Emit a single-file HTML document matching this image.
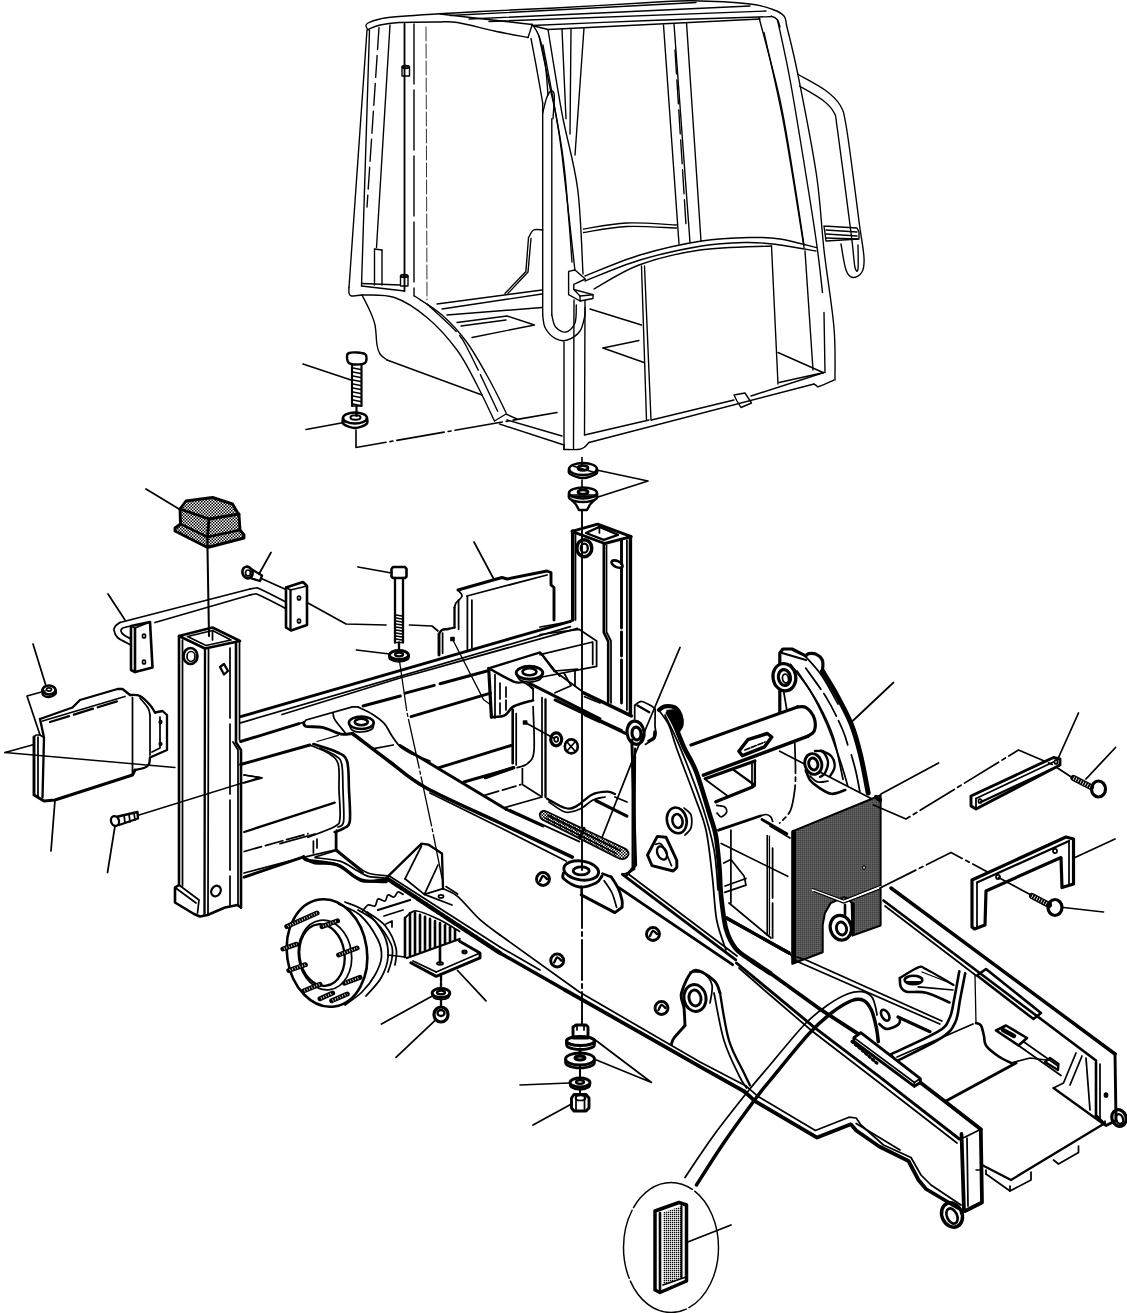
<!DOCTYPE html>
<html><head><meta charset="utf-8"><title>Cab and frame exploded view</title>
<style>html,body{margin:0;padding:0;background:#fff}svg{display:block}</style></head>
<body><svg width="1127" height="1313" viewBox="0 0 1127 1313">
<defs>
<pattern id="mesh" width="2" height="2" patternUnits="userSpaceOnUse"><rect width="2" height="2" fill="#000"/><rect x="0.5" y="0.5" width="1.15" height="1.15" fill="#fff"/></pattern>
<pattern id="mesh2" width="2" height="2" patternUnits="userSpaceOnUse"><rect width="2" height="2" fill="#fff"/><rect x="0" y="0" width="1.3" height="1.3" fill="#000"/></pattern>
<pattern id="stip" width="3" height="3" patternUnits="userSpaceOnUse"><rect width="3" height="3" fill="#fff"/><rect x="0" y="0" width="1.5" height="1.5" fill="#000"/><rect x="1.5" y="1.5" width="1.5" height="1.5" fill="#000"/></pattern>
</defs>
<g fill="none" stroke="#000" stroke-width="1.44" stroke-linecap="round" stroke-linejoin="round">
<!-- cab roof -->
<path d="M368 30 C367.7 29.3 366 27.2 366 26 C366 24.8 365.7 24.2 368 23 C370.3 21.8 374.8 20.1 380 19 C385.2 17.9 382.3 17.8 399 16.5 C415.7 15.2 454 12.9 480 11.5 C506 10.1 526.7 9.5 555 8 C583.3 6.5 627.2 3.7 650 2.5 C672.8 1.3 675.3 0.6 692 0.8 C708.7 1.1 736.3 2.5 750 4 C763.7 5.5 768.3 8 774 10 C779.7 12 781.9 13.5 784 16 C786.1 18.5 786.1 23.5 786.5 25" stroke-width="1.38"/>
<path d="M368 29.5 C370 28.8 374.8 26.2 380 25 C385.2 23.8 389.5 23 399 22.5 C408.5 22 427.2 22 437 22 C446.8 22 447.9 21 457.5 22.5 C467.1 24 482.8 28.5 494.5 31 C506.2 33.5 522.4 36.4 528 37.5" stroke-width="1.38"/>
<path d="M450 15.5 L696 2.5" stroke-width="1.38"/>
<path d="M469 19 L750 6" stroke-width="1.38"/>
<path d="M489 21.5 L766 11" stroke-width="1.38"/>
<path d="M440 14 L532 24.5" stroke-width="1.38"/>
<path d="M532 25.5 C551.7 24.7 612.2 21.9 650 20.5 C687.8 19.1 738.7 17.7 759 17 C779.3 16.3 768.9 16 772 16.5 C775.1 17 776.2 18.2 777.5 20 C778.8 21.8 779.6 25.8 780 27" stroke-width="1.38"/>
<path d="M528 37.5 L532 25.5" stroke-width="1.38"/>
<!-- cab left post -->
<path d="M367 30 L349 287.5" stroke-width="1.38"/>
<path d="M349 287.5 C349 288.4 348.6 291.6 349 293 C349.4 294.4 349.3 295.7 351.5 296 C353.7 296.3 360.2 295.2 362 295" stroke-width="1.38"/>
<path d="M369.5 30 L361.5 286" stroke-width="1.38"/>
<path d="M379 27.5 L367 207" stroke-width="1.38" stroke-dasharray="22 6"/>
<path d="M390 25 L376.5 247.5" stroke-width="1.38"/>
<path d="M404.5 24 L404.5 291" stroke-width="1.84"/>
<path d="M414 24 L414 296" stroke-width="1.38" stroke-dasharray="60 6"/>
<path d="M426 27 L427 300" stroke-width="0.80" stroke-dasharray="14 3"/>
<path d="M402 67 L402 76 L409.5 76 L409.5 67Z" stroke-width="1.38"/>
<ellipse cx="405.7" cy="67" rx="3.7" ry="1.5" stroke-width="1.38"/>
<path d="M400.5 276 L400.5 286 L408 286 L408 276Z" stroke-width="1.38"/>
<ellipse cx="404.2" cy="276" rx="3.7" ry="1.5" stroke-width="1.38"/>
<path d="M374.5 249 L374.5 285" stroke-width="1.38"/>
<path d="M382 250 L382 285" stroke-width="1.38"/>
<path d="M374.5 249 L382 250" stroke-width="1.38"/>
<path d="M361.5 286 L404.5 291" stroke-width="1.38"/>
<path d="M362 283.5 L400 285" stroke-width="1.38"/>
<!-- fender -->
<path d="M362 295 C363.2 297.5 367.3 305 369.5 310 C371.7 315 373.8 319.2 375 325 C376.2 330.8 376.2 340.2 377 345 C377.8 349.8 378.3 351.5 380 354 C381.7 356.5 385.8 359 387 360" stroke-width="1.38"/>
<path d="M387 360 L482 395" stroke-width="1.38"/>
<path d="M362 295 C367.4 295.4 383.7 293.8 394.5 297.5 C405.3 301.2 416.6 308.8 427 317.5 C437.4 326.2 448.7 338.8 457 350 C465.3 361.2 470.8 373.2 477 385 C483.2 396.8 491.6 415 494.5 421" stroke-width="1.38"/>
<path d="M414.5 296 C419.1 299.2 433.2 307.2 442 315 C450.8 322.8 459.1 331.7 467 342.5 C474.9 353.3 483 368.3 489.5 380 C496 391.7 503.2 407.1 506 412.5" stroke-width="1.38"/>
<path d="M427 304 C432 308.8 449.9 324.4 457 332.5 C464.1 340.6 462.4 338.8 469.5 352.5 C476.6 366.2 494.5 404.6 499.5 415" stroke-width="1.38" stroke-dasharray="40 5"/>
<path d="M494.5 421 L506 414" stroke-width="1.38"/>
<!-- cab floor front -->
<path d="M437 304 L542 290" stroke-width="1.38"/>
<path d="M442 309 L542 294" stroke-width="1.38"/>
<path d="M447 315 L542 307.5" stroke-width="1.38"/>
<path d="M457 322.5 L507 316 L534.5 325 L472 337.5" stroke-width="1.38"/>
<path d="M461 326 L506 320" stroke-width="1.38"/>
<!-- front hoop + A pillar -->
<path d="M531 38.5 C531.8 42.9 534 54.2 536 65 C538 75.8 541.6 96.7 542.7 103" stroke-width="1.38"/>
<path d="M532 24 C533.2 26 536.8 29.7 539 36 C541.2 42.3 543.5 52.2 545 62 C546.5 71.8 547.5 89.5 548 95" stroke-width="1.38"/>
<path d="M542.7 103 L542.7 315" stroke-width="1.38"/>
<path d="M542.7 315 C543.1 317.2 543.1 324.1 545.3 328 C547.4 331.9 551.9 336.7 555.6 338.7 C559.3 340.7 563.2 341.3 567.3 340 C571.4 338.7 577 335.2 580 331 C583 326.8 584.2 317.7 585 315" stroke-width="1.38"/>
<path d="M585 315 L585 300" stroke-width="1.38"/>
<path d="M542.7 113 C543.4 110.5 545.2 101.7 546.6 98 C548 94.3 549.7 91.4 551 91 C552.3 90.6 554 90.8 554.3 95.4 C554.6 100 553.2 114.8 553 118.7" stroke-width="1.38"/>
<path d="M551.8 118.7 L551.8 315" stroke-width="1.38"/>
<path d="M551.8 315 C552.4 317 553.2 324.2 555.6 327 C558 329.8 562.8 332.7 566 332 C569.2 331.3 573.3 327.5 575 323 C576.7 318.5 576.1 308 576.3 305" stroke-width="1.38"/>
<path d="M539 36 C540.9 45 547.7 77.1 550.5 90 C553.3 102.9 553.7 102.7 555.6 113.5 C557.5 124.3 558.8 128.8 562 155 C565.2 181.2 572.8 251.7 575 271" stroke-width="1.38"/>
<path d="M548 29.5 C550.3 43.5 557.1 87 562 113.5 C566.9 140 574.1 161.8 577.6 188.6 C581.1 215.3 582.1 259.8 583 274" stroke-width="1.38"/>
<path d="M543 45 C546.2 62.5 557.7 121.3 562 150 C566.3 178.7 566.9 198.3 568.6 217 C570.3 235.7 571.4 254.5 572 262" stroke-width="1.38"/>
<path d="M562 29.5 L566 118.7" stroke-width="1.38"/>
<path d="M571 29.5 L570 134" stroke-width="1.38"/>
<path d="M584 28 L575 155" stroke-width="1.38"/>
<path d="M534 26 L548 29.5 L760 19" stroke-width="1.38"/>
<!-- seat lever -->
<path d="M542.7 230 C541.2 230 536 228.7 533.6 230 C531.2 231.3 529.4 236.4 528.5 237.7" stroke-width="1.38"/>
<path d="M528.5 237.7 L525.9 271.4 L505 293.4" stroke-width="1.38"/>
<path d="M531 238.5 L528 272 L508 293.4" stroke-width="1.38"/>
<!-- front right post lower -->
<path d="M574 300 L573.5 449" stroke-width="1.38"/>
<path d="M564 342 L564 449.5" stroke-width="1.38"/>
<path d="M585 307.5 L584.5 435" stroke-width="1.38"/>
<path d="M564 449.5 C566.3 449.5 574.7 449.8 578 449.5 C581.3 449.2 582.2 448.7 584 447.5 C585.8 446.3 588.2 443.3 589 442.5" stroke-width="1.38"/>
<path d="M589 442.5 L814 384" stroke-width="1.38"/>
<path d="M814 384 C814.5 384.3 816.2 385.6 817 386 C817.8 386.4 816.2 387.5 819 386.5 C821.8 385.5 831.5 381.1 834 380" stroke-width="1.38"/>
<path d="M584.5 435 L649 420" stroke-width="1.38"/>
<path d="M651.5 420 L734 400" stroke-width="1.38"/>
<path d="M751 396 L824 372.5" stroke-width="1.38"/>
<path d="M734 395 L745 393 L751.5 403 L741 407.5 L737 401Z" stroke-width="1.38"/>
<path d="M499.5 424 L564 445" stroke-width="1.38"/>
<path d="M507 420 L562 436" stroke-width="1.38"/>
<path d="M506 414 L517 419" stroke-width="1.38"/>
<path d="M564 449.5 L564 445" stroke-width="1.38"/>
<!-- bracket on post -->
<path d="M568.6 271.4 L575 270 L585.4 279 L573.8 284.3 L573.8 289.5 L593 294.7 L593 298.5 L580 301 L568.6 294.7Z" stroke-width="1.38" fill="#fff"/>
<path d="M573.8 289.5 L580 296 L593 294.7" stroke-width="1.38"/>
<path d="M580 296 L580 301" stroke-width="1.38"/>
<!-- sill -->
<path d="M585 276 C594.2 272.5 620.6 260.8 640 255 C659.4 249.2 682.9 243.9 701.5 241 C720.1 238.1 738.4 237.8 751.5 237.5 C764.6 237.2 769.2 237.3 780 239 C790.8 240.7 810.4 246.1 816.5 247.5" stroke-width="1.38"/>
<path d="M585 281 C594.2 277.5 620.6 265.8 640 260 C659.4 254.2 684 248.9 701.5 246 C719 243.1 733.2 242.8 745 242.5 C756.8 242.2 760.7 242.6 772.5 244 C784.3 245.4 808.8 249.8 816 251" stroke-width="1.38"/>
<path d="M594 289 C601.5 285 621.3 271.5 639 265 C656.7 258.5 677.9 253.2 700 250 C722.1 246.8 759.6 246.7 771.5 246" stroke-width="1.38"/>
<path d="M583.5 229 C590.7 228 611 223.7 626.5 223 C642 222.3 668.2 224.7 676.5 225" stroke-width="1.38"/>
<path d="M583.5 232.5 C590.7 231.5 611 227.2 626.5 226.5 C642 225.8 668.2 227.8 676.5 228" stroke-width="1.38"/>
<!-- B pillar -->
<path d="M663.5 25 L679 244" stroke-width="1.38"/>
<path d="M674 24 L690 242.5" stroke-width="1.38"/>
<path d="M686.5 22.5 L701 241" stroke-width="1.38"/>
<path d="M675 50 L686 225" stroke-width="1.38" stroke-dasharray="24 6"/>
<!-- C pillar -->
<path d="M786.5 25 C788.4 33.3 793 50 798 75 C803 100 812.2 145.8 816.5 175 C820.8 204.2 821.1 224.5 824 250 C826.9 275.5 832.2 306.3 834 328 C835.8 349.7 834.8 371.3 835 380" stroke-width="1.38"/>
<path d="M777.5 20 C779.8 30.8 785.6 55 791 85 C796.4 115 805.6 172.5 810 200 C814.4 227.5 815.4 234.6 817.5 250 C819.6 265.4 821.7 285.4 822.5 292.5" stroke-width="1.38"/>
<path d="M824 312.5 L825 372.5" stroke-width="1.38"/>
<path d="M759 17.5 C762.5 31.2 774.2 72.9 780 100 C785.8 127.1 790 155.8 794 180 C798 204.2 802.3 234.2 804 245" stroke-width="1.38"/>
<path d="M764 32.5 C767.3 47.9 777.3 89.2 784 125 C790.7 160.8 800.7 227.1 804 247.5" stroke-width="1.38"/>
<!-- rear lower -->
<path d="M771.5 246 L778 384" stroke-width="1.38"/>
<path d="M805 251 L813 370" stroke-width="1.38"/>
<path d="M778 352.5 L823 372.5" stroke-width="1.38"/>
<path d="M779 382.5 L824 372.5" stroke-width="1.38"/>
<path d="M641.5 266 L646.5 420" stroke-width="1.38"/>
<path d="M644.5 266 L651 420" stroke-width="1.38"/>
<path d="M590 309 L641.5 325" stroke-width="1.38"/>
<path d="M603 348 L639 340.5" stroke-width="1.38"/>
<path d="M603 348 L644 362.5" stroke-width="1.38"/>
<!-- grab handle -->
<path d="M797.5 74 C802.1 76.7 817.9 84.8 825 90 C832.1 95.2 836.5 99.2 840 105 C843.5 110.8 843.5 110.8 846 125 C848.5 139.2 852.8 173.3 855 190 C857.2 206.7 858 213.8 859.5 225 C861 236.2 863.6 249.7 864 257.5 C864.4 265.3 863.8 268.7 862 272 C860.2 275.3 855.7 277.8 853 277.5 C850.3 277.2 848 275.6 846 270 C844 264.4 841.8 248.3 841 244" stroke-width="1.38"/>
<path d="M799.5 86 C803.3 88.3 816.8 95.6 822.5 100 C828.2 104.4 831.5 107.5 834 112.5 C836.5 117.5 834.8 111.2 837.5 130 C840.2 148.8 847.5 205.8 850 225 C852.5 244.2 851.7 237.9 852.5 245 C853.3 252.1 854.1 263.5 855 267.5 C855.9 271.5 857.5 272.8 858 269 C858.5 265.2 858 249 858 245" stroke-width="1.38"/>
<path d="M824 226 L857 228 L859 232 L859 239 L826 241 L824 226" stroke-width="1.38"/>
<path d="M826 230 L857 232" stroke-width="1.38"/>
<path d="M826 234 L857 236" stroke-width="1.38"/>
<path d="M826 238 L858 239" stroke-width="1.38"/>
<!-- cab bolt + washer -->
<path d="M347 356 C347 354.3 347.3 353.6 349 353 C350.7 352.4 354.3 352.3 357 352.5 C359.7 352.7 363.4 353.1 365 354 C366.6 354.9 366.5 356.5 366.5 358 C366.5 359.5 366.6 361.9 365 363 C363.4 364.1 359.7 364.5 357 364.5 C354.3 364.5 350.7 364.4 349 363 C347.3 361.6 347 357.7 347 356Z" stroke-width="2.43"/>
<path d="M352 364 L352 406" stroke-width="2.16"/>
<path d="M361.5 364 L361.5 406" stroke-width="2.16"/>
<path d="M353 368 L360.5 369.5" stroke-width="1.35"/>
<path d="M353 372 L360.5 373.5" stroke-width="1.35"/>
<path d="M353 376 L360.5 377.5" stroke-width="1.35"/>
<path d="M353 380 L360.5 381.5" stroke-width="1.35"/>
<path d="M353 384 L360.5 385.5" stroke-width="1.35"/>
<path d="M353 388 L360.5 389.5" stroke-width="1.35"/>
<path d="M353 392 L360.5 393.5" stroke-width="1.35"/>
<path d="M353 396 L360.5 397.5" stroke-width="1.35"/>
<path d="M353 400 L360.5 401.5" stroke-width="1.35"/>
<path d="M353 404 L360.5 405.5" stroke-width="1.35"/>
<path d="M352 406 L361.5 406" stroke-width="1.62"/>
<path d="M356.5 406 L356.5 416" stroke-width="2.16"/>
<ellipse cx="355" cy="418" rx="12" ry="5.5" stroke-width="2.43"/>
<path d="M343 418 C343.1 419 341.5 422.3 343.5 424 C345.5 425.7 351.2 428 355 428 C358.8 428 364.5 425.7 366.5 424 C368.5 422.3 366.9 419 367 418" stroke-width="2.43"/>
<ellipse cx="355.5" cy="417.5" rx="5" ry="2.2" stroke-width="2.03"/>
<path d="M303 364 L351 380" stroke-width="1.62"/>
<path d="M306 429.5 L344 422.5" stroke-width="1.62"/>
<path d="M356 430 L356 447.5 L557 412.5" stroke-width="1.62" stroke-dasharray="48 4 3 4"/>
<!-- cab mount washers -->
<ellipse cx="583" cy="469" rx="14" ry="6" stroke-width="2.43"/>
<path d="M569 469 C569.2 469.8 567.7 472.5 570 474 C572.3 475.5 578.7 478 583 478 C587.3 478 593.7 475.5 596 474 C598.3 472.5 596.8 469.8 597 469" stroke-width="2.43"/>
<ellipse cx="583" cy="468" rx="5" ry="2.3" stroke-width="2.70"/>
<path d="M573 466 L593 472" stroke-width="1.35"/>
<ellipse cx="583" cy="493" rx="14" ry="5.5" stroke-width="2.43"/>
<path d="M569 493 C569.2 494 567.7 497.5 570 499 C572.3 500.5 578.7 502 583 502 C587.3 502 593.7 500.5 596 499 C598.3 497.5 596.8 494 597 493" stroke-width="2.43"/>
<path d="M572 500.5 L576 504.5 L579 510 L587 510 L590 504.5 L594 500.5" stroke-width="2.43"/>
<ellipse cx="583" cy="492" rx="5" ry="2.2" stroke-width="2.70"/>
<path d="M571 496.5 L595 496.5" stroke-width="2.16"/>
<path d="M570 495 L596 495" stroke-width="1.62"/>
<path d="M596.5 470 L648 481 L596.5 497.5" stroke-width="1.62"/>
<path d="M582 457.5 L582 466" stroke-width="1.62"/>
<path d="M582 480 L582 487" stroke-width="1.62"/>
<path d="M582 510 L582 870" stroke-width="1.89"/>
<path d="M582 888 L582 1025" stroke-width="1.89" stroke-dasharray="40 4 4 4"/>
<!-- cap -->
<path d="M180 509 L186 501 L212.5 497.5 L232.5 504 L239 515 L240 530 L244 535 L244 538 L207.5 547.5 L175 531 L175 528 L180.5 524Z" stroke-width="2.90" fill="url(#stip)"/>
<path d="M180 509 L209 519 L239 514" stroke-width="2.90"/>
<path d="M209 519 L207.5 537" stroke-width="2.90"/>
<path d="M180.5 524 L207.5 537 L240 530" stroke-width="2.32"/>
<path d="M207.5 537 L207.5 547" stroke-width="2.32"/>
<path d="M146 489 L179 509" stroke-width="1.74"/>
<path d="M207.5 549 L209 636" stroke-width="2.03"/>
<!-- left post -->
<path d="M179 636 L212.5 627.5 L240 641 L205 648.5Z" stroke-width="2.61"/>
<path d="M187.5 636.5 L212.5 630.5 L231 640 L206 645.5Z" stroke-width="1.74"/>
<path d="M212.5 630.5 L212.5 640" stroke-width="1.74"/>
<path d="M179 636 L179 885" stroke-width="2.61"/>
<path d="M182.5 640 L182.5 886" stroke-width="1.74"/>
<path d="M205 648.5 L204.5 915" stroke-width="2.32"/>
<path d="M208.5 649 L208 915" stroke-width="1.74"/>
<path d="M236 644 L236 742.5 L241 750 L241 907.5" stroke-width="2.61"/>
<path d="M239.5 642 L239.5 740" stroke-width="1.74"/>
<path d="M230 648 L230 905" stroke-width="1.74" stroke-dasharray="70 6"/>
<path d="M233 742 L238 750 L238 905" stroke-width="1.74"/>
<ellipse cx="190.5" cy="656" rx="7" ry="8" stroke-width="2.61"/>
<ellipse cx="191" cy="656.5" rx="4" ry="5" stroke-width="1.74"/>
<path d="M220 667 L224 664 L228 671 L224 674.5Z" stroke-width="2.32"/>
<ellipse cx="216" cy="891" rx="4.5" ry="5.5" transform="rotate(30 216 891)" stroke-width="2.32"/>
<path d="M179 885 L175 887.5 L175 902.5 L194 914 L200 916.5 L207.5 915 L225 907.5 L237.5 905 L241 907.5" stroke-width="2.61"/>
<path d="M179 885 L199 900 L197.5 913" stroke-width="1.74"/>
<path d="M175 887.5 L196 903" stroke-width="1.74"/>
<!-- bar and plate -->
<path d="M131 645 C128.8 643.8 120.3 640 117.5 637.5 C114.7 635 114.3 631.9 114 630 C113.7 628.1 114.5 627.2 115.5 626 C116.5 624.8 119.2 623.1 120 622.5" stroke-width="1.74"/>
<path d="M120 622.5 L250 589" stroke-width="1.74"/>
<path d="M250 589 C251 588.8 254.3 588 256 588 C257.7 588 255.7 587 260 589 C264.3 591 277.2 597.5 282 600 C286.8 602.5 287.8 603.3 289 604" stroke-width="1.74"/>
<path d="M155 622.5 L250 595" stroke-width="1.74"/>
<path d="M250 595 C250.8 594.8 253.5 594 255 594 C256.5 594 254.5 592.9 259 595 C263.5 597.1 277.2 604 282 606.5 C286.8 609 287 609.4 288 610" stroke-width="1.74"/>
<path d="M131 626 C129.7 626.3 124.7 627.2 123 628 C121.3 628.8 120.8 629.8 121 631 C121.2 632.2 122.3 633.7 124 635 C125.7 636.3 129.8 638.3 131 639" stroke-width="1.74"/>
<path d="M131 626 L150 622 L152.5 667.5 L135 672 L131 670Z" stroke-width="2.61" fill="#fff"/>
<path d="M135 628 L135 672" stroke-width="2.61"/>
<path d="M131 626 L135 628 L150 622" stroke-width="1.74"/>
<ellipse cx="144" cy="636" rx="1.5" ry="2" stroke-width="1.74"/>
<ellipse cx="144" cy="662" rx="1.5" ry="2" stroke-width="1.74"/>
<path d="M108 594 L125 620" stroke-width="1.74"/>
<!-- bolt by bar -->
<ellipse cx="247.5" cy="572.5" rx="5" ry="6" transform="rotate(-20 247.5 572.5)" stroke-width="2.61"/>
<ellipse cx="248" cy="573" rx="2.5" ry="3" stroke-width="1.74"/>
<path d="M251 569 L262 575.5 L260 581 L250 578" stroke-width="2.32"/>
<path d="M271 552.5 L259 574" stroke-width="1.74"/>
<path d="M262.5 579 L287 590" stroke-width="1.74"/>
<!-- small nut + leader -->
<ellipse cx="49" cy="690" rx="6.5" ry="4.5" stroke-width="2.61"/>
<path d="M42.5 690 C42.6 690.8 41.9 693.8 43 695 C44.1 696.2 46.9 697.2 49 697 C51.1 696.8 54.4 695.2 55.5 694 C56.6 692.8 55.5 690.7 55.5 690" stroke-width="2.32"/>
<ellipse cx="49" cy="689.5" rx="2.5" ry="1.6" stroke-width="1.74"/>
<path d="M33 644 L46 686" stroke-width="1.74"/>
<path d="M45 691 L27 696 L40 735" stroke-width="1.74"/>
<!-- shield -->
<path d="M40 719 L72.5 707.5 L80 700 L117.5 689 L122.5 689 L130 695" stroke-width="2.32"/>
<path d="M130 695 C131.7 695.2 136.7 694.3 140 696 C143.3 697.7 147.5 702.2 150 705 C152.5 707.8 154.2 711.2 155 712.5" stroke-width="2.32"/>
<path d="M155 712.5 L162.5 711 L167 715 L167 750 L150 757.5" stroke-width="2.32"/>
<path d="M150 757.5 C149.8 758.6 149.8 762.3 149 764 C148.2 765.7 147.3 766.5 145 767.5 C142.7 768.5 136.7 769.6 135 770" stroke-width="2.32"/>
<path d="M135 770 L132.5 775 L55 800 L44 801 L34 795 L34 737" stroke-width="2.90"/>
<path d="M34 737 L36 735 L40 735 L44 737.5" stroke-width="1.74"/>
<path d="M40 719 L44 737.5 L42.5 797.5" stroke-width="2.32"/>
<path d="M38 737 L38 796" stroke-width="1.74"/>
<path d="M42.5 721 L125 696.5" stroke-width="1.74"/>
<path d="M50 722 L118 701" stroke-width="2.32" stroke-dasharray="20 5"/>
<path d="M132.5 697.5 L132.5 775" stroke-width="1.74"/>
<path d="M150 715 L150 755" stroke-width="1.74"/>
<path d="M140 698 C141.3 699.7 146.3 705.2 148 708 C149.7 710.8 149.7 713.8 150 715" stroke-width="1.74"/>
<path d="M160 717 L160 748 L152 752" stroke-width="1.74"/>
<ellipse cx="160.5" cy="722" rx="1.2" ry="1.5" stroke-width="1.74"/>
<ellipse cx="160.5" cy="744" rx="1.2" ry="1.5" stroke-width="1.74"/>
<path d="M5 752.5 L34 744.5" stroke-width="1.74"/>
<path d="M5 752.5 L175 767.5" stroke-width="1.45"/>
<path d="M55 800 L51 851" stroke-width="1.74"/>
<!-- small bolt -->
<ellipse cx="115" cy="821" rx="4" ry="5" transform="rotate(-15 115 821)" stroke-width="2.32"/>
<path d="M118 816.5 L137.5 812 L138 818.5 L119 825" stroke-width="2.32"/>
<path d="M124 815 L125 823" stroke-width="1.74"/>
<path d="M129 814 L130 822" stroke-width="1.74"/>
<path d="M134 813 L135 820" stroke-width="1.74"/>
<path d="M137.5 815.5 L260 777.5 L244 775" stroke-width="1.45"/>
<path d="M115 826 L107.5 872.5" stroke-width="1.74"/>
<!-- crossbeam top -->
<path d="M240.6 716.6 L570.4 621.3" stroke-width="2.90"/>
<path d="M240.6 722.8 L570.4 626.6" stroke-width="1.74"/>
<path d="M282 714.5 L400 678 L577.5 628.4" stroke-width="1.74"/>
<path d="M240.6 741.5 L299 723.7" stroke-width="2.90"/>
<path d="M299 723.7 L304.5 722" stroke-width="1.74"/>
<!-- gusset left -->
<path d="M303.6 722.8 C304.1 723.4 303.2 725.6 306.3 726.4 C309.4 727.1 317.3 726.3 322.3 727.3 C327.3 728.3 332.9 731.4 336.5 732.6 C340.1 733.8 341 734.2 343.6 734.4 C346.2 734.5 350.9 733.6 352.4 733.5" stroke-width="2.90"/>
<path d="M303.6 722.8 L306 720 L352.4 706.9 L357.8 706.9" stroke-width="1.74"/>
<path d="M357.8 706.9 C360.2 708.1 367.6 711.2 372 714 C376.4 716.8 381.1 720 384.4 723.7 C387.7 727.4 389.3 732.1 392 736 C394.7 739.9 397.1 743.8 400.4 746.8 C403.7 749.8 410.1 752.8 412 754" stroke-width="1.74"/>
<path d="M412 754 L430 761" stroke-width="1.74"/>
<path d="M333 713 C333.2 713.8 333.4 716.5 334 718 C334.6 719.5 334.7 719.6 336.5 722 C338.3 724.4 343.6 730.8 345 732.6" stroke-width="1.74"/>
<ellipse cx="361.3" cy="722.8" rx="12.4" ry="6.2" stroke-width="2.61"/>
<ellipse cx="361.3" cy="722" rx="6.5" ry="3.2" stroke-width="2.61"/>
<path d="M349 723.5 C349.5 724.6 349.9 728.6 352 730 C354.1 731.4 358 732.2 361.3 732 C364.6 731.8 369.9 730.4 372 729 C374.1 727.6 373.4 724.4 373.7 723.5" stroke-width="1.74"/>
<path d="M352.4 733.5 C358.7 738.2 377.8 753 390 762 C402.2 771 407.6 777.6 425.9 787.8 C444.2 798 475.6 811.5 500 823 C524.4 834.5 560.2 851.4 572.3 857.1" stroke-width="3.48"/>
<path d="M317 741.5 L338.3 735.3" stroke-width="1.30"/>
<!-- beam front face -->
<path d="M240.6 764.5 L309.9 745" stroke-width="2.90"/>
<path d="M309.9 745 C313.1 746.5 324.7 750.6 329.4 753.9 C334.1 757.1 336.7 758.5 338.3 764.5 C339.9 770.5 338.7 781.1 339 790 C339.3 798.9 340.7 811.7 340 817.8 C339.3 823.9 340 823.4 334.7 826.6 C329.4 829.9 312.4 835.5 308 837.3" stroke-width="1.74"/>
<path d="M313.4 744.1 C317.2 745.4 330.9 749.2 336.5 752 C342.1 754.8 344.9 754.7 347 761 C349.1 767.3 348.5 780 349 790 C349.5 800 350.7 814.9 349.8 821.3 C348.9 827.7 346.1 826.6 343.6 828.4 C341.1 830.2 336.2 831.4 334.7 832" stroke-width="2.61"/>
<path d="M320 748 C322.7 749.3 332.4 753.2 336 756 C339.6 758.8 340.6 758.8 341.8 764.5 C343 770.2 342.7 780.5 343 790 C343.3 799.5 344.4 815.1 343.6 821.3 C342.8 827.5 338.9 826 338 827" stroke-width="1.74"/>
<path d="M244.2 832 L334.7 802.7" stroke-width="2.32"/>
<path d="M244.2 851.5 L308 833.7" stroke-width="1.74" stroke-dasharray="18 4"/>
<path d="M244.2 877.2 L303.6 856.8" stroke-width="2.90"/>
<path d="M303.6 856.8 C304.3 857.4 302.5 859.1 308 860.4 C313.5 861.7 328.8 862.1 336.5 864.8 C344.2 867.4 349.5 873.6 354.2 876.3 C358.9 879 359.6 879.9 364.9 880.8 C370.2 881.7 382.6 881.6 386.2 881.7" stroke-width="3.19"/>
<path d="M315.2 857.7 C319.3 858.3 332.9 859 340 861.2 C347.1 863.4 353.1 868.5 357.8 871 C362.5 873.5 363.7 875.1 368.4 876.3 C373.1 877.5 383.2 877.7 386.2 878" stroke-width="1.74"/>
<path d="M335.6 833.7 L335.6 850.6 L315.2 857" stroke-width="1.74"/>
<path d="M335.6 850.6 L363 872.8" stroke-width="1.74"/>
<path d="M313.4 841 L313.4 853" stroke-width="1.74"/>
<path d="M317 839 L317 848" stroke-width="1.74"/>
<path d="M244 775 L262 777.8 L244 783" stroke-width="1.74"/>
<!-- beam back dashes -->
<path d="M363 706 L400.4 696" stroke-width="2.90"/>
<path d="M405.3 693.2 L487 671" stroke-width="2.90" stroke-dasharray="30 6 60 6"/>
<path d="M411 716.6 L490.5 693.2" stroke-width="2.90"/>
<path d="M373.7 748.6 L393.3 745" stroke-width="1.74"/>
<!-- upper bracket plate -->
<path d="M458 590 L502 577.5 L507 579 L547 571 L551 572.5 L551 585 L554 587.5 L554 620" stroke-width="2.90"/>
<path d="M458 590 C458.7 591 462.3 593.8 462 596 C461.7 598.2 457.2 601.1 456 603 C454.8 604.9 454.8 606.8 454.5 607.5" stroke-width="1.74"/>
<path d="M454.5 607.5 L454.5 627.5" stroke-width="2.32"/>
<path d="M454.5 627.5 C453.4 627.8 450.1 628.6 448 629 C445.9 629.4 443.5 629.2 442 630 C440.5 630.8 439.5 633.3 439 634" stroke-width="2.32"/>
<path d="M439 634 L439 655" stroke-width="2.90"/>
<path d="M442.6 633 L442.6 653.2" stroke-width="1.74"/>
<path d="M467 596 L547 575" stroke-width="1.74"/>
<path d="M467.4 596 L467.4 649.7" stroke-width="1.74"/>
<path d="M471.9 600 L471.9 648" stroke-width="1.74"/>
<path d="M458.6 600 L458.6 629.3" stroke-width="1.74"/>
<path d="M451 637.5 L454 637.5 L454 640.5 L451 640.5Z" stroke-width="1.74" fill="#000"/>
<path d="M452.4 639 L483.4 699.4 L490.5 704.7" stroke-width="1.30"/>
<path d="M474 542 L494 579.5" stroke-width="1.74"/>
<!-- bolt long -->
<path d="M391.5 569 L393 567 L405 567 L406.5 569 L406.5 576.5 L405 578 L393 578 L391.5 576.5Z" stroke-width="2.61"/>
<path d="M395 578 L395 642.5" stroke-width="2.32"/>
<path d="M403 578 L403 642.5" stroke-width="2.32"/>
<path d="M395 642.5 L403 642.5" stroke-width="1.74"/>
<path d="M396 615 L402 616" stroke-width="1.30"/>
<path d="M396 618 L402 619" stroke-width="1.30"/>
<path d="M396 621 L402 622" stroke-width="1.30"/>
<path d="M396 624 L402 625" stroke-width="1.30"/>
<path d="M396 627 L402 628" stroke-width="1.30"/>
<path d="M396 630 L402 631" stroke-width="1.30"/>
<path d="M396 633 L402 634" stroke-width="1.30"/>
<path d="M396 636 L402 637" stroke-width="1.30"/>
<path d="M396 639 L402 640" stroke-width="1.30"/>
<path d="M399 642.5 L399 652" stroke-width="2.32"/>
<ellipse cx="399" cy="655" rx="9.5" ry="4.5" stroke-width="2.90"/>
<ellipse cx="399" cy="654.5" rx="4" ry="1.8" stroke-width="2.32"/>
<path d="M389.5 655 C389.6 655.7 388.4 657.9 390 659 C391.6 660.1 396 661.5 399 661.5 C402 661.5 406.4 660.1 408 659 C409.6 657.9 408.4 655.7 408.5 655" stroke-width="2.32"/>
<path d="M358 567 L391.5 573" stroke-width="1.74"/>
<path d="M298 597.5 L346 624 L386 625" stroke-width="1.74"/>
<path d="M409.5 625 L432 626 L438 631" stroke-width="1.74"/>
<path d="M356.5 650 L389.5 654" stroke-width="1.74"/>
<path d="M399.5 661 L407 712.5 L418 762.5 L432 828 L442 878" stroke-width="1.30" stroke-dasharray="50 3 3 3"/>
<!-- small plate right of bar -->
<path d="M286 587.5 L303 582 L307 586 L307 625 L291 630.5 L286 627.5Z" stroke-width="2.61" fill="#fff"/>
<path d="M290.5 590 L290.5 630" stroke-width="2.32"/>
<path d="M286 587.5 L290.5 590 L307 586" stroke-width="1.74"/>
<ellipse cx="299" cy="598" rx="1.5" ry="2" stroke-width="1.74"/>
<ellipse cx="299" cy="621" rx="1.5" ry="2" stroke-width="1.74"/>
<!-- box bracket with washer -->
<path d="M488.7 668.3 L540.2 652.4 L543.7 656.8 L554.4 671" stroke-width="2.32"/>
<path d="M488.7 668.3 L491.4 717.1" stroke-width="3.19"/>
<path d="M495 674.5 L495 718" stroke-width="1.74"/>
<path d="M491.4 717.1 C493.6 716.8 501 717.2 504.7 715.4 C508.4 713.6 508.9 709 513.6 706.5 C518.3 704 529.9 701.3 533.1 700.3" stroke-width="2.61"/>
<path d="M488.7 668.3 C492.9 670.5 507.7 679.2 513.6 681.6 C519.5 684 521 681.3 524.2 682.5 C527.5 683.7 531.6 687.7 533.1 688.7" stroke-width="2.32"/>
<path d="M533.1 688.7 L533.1 700.3" stroke-width="1.74"/>
<ellipse cx="529.5" cy="672.8" rx="13.3" ry="6.5" stroke-width="2.90"/>
<ellipse cx="529.5" cy="671.8" rx="7" ry="3.5" stroke-width="2.61"/>
<path d="M516.5 674 C517.1 675 517.8 678.7 520 680 C522.2 681.3 526.2 682.1 529.5 682 C532.8 681.9 537.8 680.8 540 679.5 C542.2 678.2 542.1 674.9 542.5 674" stroke-width="1.74"/>
<path d="M512.7 710 L512.7 763.3" stroke-width="2.61"/>
<path d="M516.2 713.6 L516.2 765" stroke-width="1.74"/>
<path d="M533.1 706.5 C533.2 713.9 534.9 741.3 534 750.8 C533.1 760.3 530.6 760.5 527.8 763.3 C525 766.1 518.9 767 517.1 767.7" stroke-width="1.74"/>
<path d="M542 697.6 L542 795.2" stroke-width="1.74"/>
<path d="M545.5 699.4 L545.5 797" stroke-width="2.32"/>
<path d="M513.6 767.7 L485.2 777.5" stroke-width="3.48"/>
<path d="M522.4 768.6 L522.4 784.6 L542 797 L504.7 807.6" stroke-width="1.74"/>
<path d="M523.6 721 L526.6 721 L526.6 724 L523.6 724Z" stroke-width="1.74" fill="#000"/>
<path d="M525.1 722.4 L554.4 738.4" stroke-width="1.74"/>
<ellipse cx="556.2" cy="739.3" rx="5.5" ry="6.5" stroke-width="3.19"/>
<ellipse cx="556.2" cy="739.3" rx="2" ry="2.5" stroke-width="1.74"/>
<ellipse cx="571.3" cy="746.4" rx="6.5" ry="7" stroke-width="2.61"/>
<path d="M567 742 L575 751" stroke-width="1.74"/>
<path d="M575 742 L567 751" stroke-width="1.74"/>
<path d="M506 687 L506 712" stroke-width="1.74" stroke-dasharray="10 3"/>
<path d="M500 683 L500 714" stroke-width="1.74" stroke-dasharray="16 4"/>
<!-- inner lines -->
<path d="M439 767.7 L511 745.5" stroke-width="2.90"/>
<path d="M463.9 782 L513.6 767.7" stroke-width="2.90"/>
<path d="M485.2 795.2 L520.7 784.6" stroke-width="1.74" stroke-dasharray="14 4"/>
<path d="M400 745.5 L506.5 809.4" stroke-width="2.90"/>
<path d="M529.5 683.4 L600 718.9" stroke-width="2.90"/>
<path d="M554.4 671 L577.5 669.2" stroke-width="1.74"/>
<path d="M554.4 671 L581 690.5" stroke-width="1.74"/>
<path d="M584.6 696.7 L600 703" stroke-width="1.74"/>
<path d="M584.6 715.4 L600 722.5" stroke-width="1.74"/>
<!-- near rail top edges -->
<path d="M622.4 874.3 L735.8 959.8" stroke-width="2.90"/>
<path d="M627 873 L737 956" stroke-width="1.74"/>
<path d="M619.2 887.9 L732.6 964.6" stroke-width="2.90"/>
<path d="M506.5 809.4 L543 826" stroke-width="2.90"/>
<path d="M510 809.7 L579.4 841.6" stroke-width="1.74"/>
<path d="M430 793 L500 827.5 L566 861" stroke-width="1.74"/>
<!-- slotted plate -->
<path d="M546.5 811.5 L625.5 848.7 Q631 853 627 857 Q623 861 617 857.5 L542 819.5 Q538 815 541 812 Q543.5 810 546.5 811.5Z" fill="url(#stip)" stroke-width="1.8"/>
<path d="M548 815.5 L620 850.5" stroke-width="2.03"/>
<path d="M545 818 L616 853.5" stroke-width="1.74"/>
<path d="M584 828.5 L580 838" stroke-width="3.19"/>
<path d="M602.5 836.3 L632.6 760 L680 647.5" stroke-width="1.74"/>
<!-- mount bracket -->
<ellipse cx="581.2" cy="870.5" rx="17.5" ry="9.5" transform="rotate(8 581.2 870.5)" stroke-width="2.90"/>
<ellipse cx="581.2" cy="870.9" rx="8" ry="4" stroke-width="2.90"/>
<path d="M563.4 873 C563.5 874 561.3 876.7 564 879 C566.7 881.3 574.1 886.3 579.4 887 C584.7 887.7 592.2 884.8 596 883 C599.8 881.2 601 877.2 602 876" stroke-width="2.90"/>
<path d="M602.5 873.6 L611.3 877" stroke-width="2.61"/>
<path d="M611.3 877 C612.4 878.8 616.2 884.2 618 888 C619.8 891.8 621.3 896.8 622 900 C622.7 903.2 622 906.1 622 907.3" stroke-width="2.90"/>
<path d="M622 907.3 L614.9 912.6 L581.2 894.9" stroke-width="2.90"/>
<path d="M604.2 880.7 C605.5 882.8 609.9 888.6 612 893 C614.1 897.4 615.8 904.9 616.6 907.3" stroke-width="1.74"/>
<path d="M581.2 886 L581.2 894.9" stroke-width="1.74"/>
<!-- holes in side plate -->
<ellipse cx="543" cy="879" rx="6.5" ry="6.5" stroke-width="2.90"/>
<path d="M540 881 C540.5 880.2 541.8 876.3 543 876 C544.2 875.7 546.3 878.5 547 879" stroke-width="2.32"/>
<ellipse cx="653" cy="934" rx="6.5" ry="6.5" stroke-width="2.90"/>
<path d="M650 936 C650.5 935.2 651.8 931.3 653 931 C654.2 930.7 656.3 933.5 657 934" stroke-width="2.32"/>
<ellipse cx="557.2" cy="960.5" rx="6.5" ry="6.5" stroke-width="2.90"/>
<path d="M554.2 962.5 C554.7 961.7 556 957.8 557.2 957.5 C558.4 957.2 560.5 960 561.2 960.5" stroke-width="2.32"/>
<ellipse cx="661.5" cy="1008" rx="6.5" ry="6.5" stroke-width="2.90"/>
<path d="M658.5 1010 C659 1009.2 660.3 1005.3 661.5 1005 C662.7 1004.7 664.8 1007.5 665.5 1008" stroke-width="2.32"/>
<!-- near rail bottom edges -->
<path d="M565 990 L671.5 1050.3 L700 1066.6 L744.4 1091.5" stroke-width="3.77"/>
<path d="M500 935 L579.4 992 L671.5 1045.5 L700 1062 L746.1 1086.1" stroke-width="1.74"/>
<!-- bushing stack -->
<path d="M573 1027 L576 1025 L586 1025 L588 1027 L588 1038 L573 1038Z" stroke-width="2.90"/>
<path d="M577 1025 L577 1030" stroke-width="1.74"/>
<path d="M584 1025 L584 1030" stroke-width="1.74"/>
<ellipse cx="580.5" cy="1041" rx="14" ry="4.5" stroke-width="3.19"/>
<path d="M566.5 1042 C566.8 1042.8 565.7 1045.8 568 1047 C570.3 1048.2 576.3 1049.5 580.5 1049.5 C584.7 1049.5 590.7 1048.2 593 1047 C595.3 1045.8 594.2 1042.8 594.5 1042" stroke-width="2.90"/>
<ellipse cx="580" cy="1059" rx="14.5" ry="6" stroke-width="2.90"/>
<path d="M565.5 1060 C565.8 1060.8 564.6 1063.7 567 1065 C569.4 1066.3 575.7 1068 580 1068 C584.3 1068 590.6 1066.3 593 1065 C595.4 1063.7 594.2 1060.8 594.5 1060" stroke-width="2.61"/>
<ellipse cx="580" cy="1058" rx="5" ry="2" stroke-width="2.90"/>
<path d="M580 1049 L580 1056" stroke-width="2.90"/>
<path d="M580 1066 L580 1078" stroke-width="2.03"/>
<ellipse cx="580" cy="1082.5" rx="10" ry="4.5" stroke-width="2.90"/>
<ellipse cx="580" cy="1082" rx="4" ry="1.8" stroke-width="2.32"/>
<path d="M570 1083 C570.2 1083.7 569.3 1085.9 571 1087 C572.7 1088.1 577 1089.5 580 1089.5 C583 1089.5 587.3 1088.1 589 1087 C590.7 1085.9 589.8 1083.7 590 1083" stroke-width="2.32"/>
<path d="M580 1088 L580 1094" stroke-width="2.03"/>
<path d="M571.5 1098 L574 1094.5 L586 1094.5 L589 1098 L589 1108 L586 1111 L574 1111 L571.5 1108Z" stroke-width="2.90"/>
<path d="M576 1096 L576 1110" stroke-width="1.74"/>
<path d="M584.5 1096 L584.5 1110" stroke-width="1.74"/>
<ellipse cx="580.5" cy="1098" rx="5" ry="2.5" stroke-width="1.74"/>
<path d="M594 1039 L651.5 1082.5 L594 1059" stroke-width="1.74"/>
<path d="M520 1085 L569 1083" stroke-width="1.74"/>
<path d="M533 1125 L571.5 1104" stroke-width="1.74"/>
<!-- wavy lines near slot plate -->
<path d="M546.9 798.6 C549.9 800.2 560.1 806.7 565 808 C569.9 809.3 571.7 808.6 576.2 806.4 C580.7 804.2 586.6 797.2 591.8 794.7 C597 792.2 603.5 791.8 607.4 791.7 C611.3 791.6 613.7 793.6 615 794" stroke-width="2.32"/>
<path d="M549 802 C551.7 803.7 560 810.8 565.2 812 C570.4 813.2 575.4 811 580 809 C584.6 807 588.8 802 593 800 C597.2 798 603 797.5 605 797" stroke-width="1.74"/>
<path d="M595.7 800.5 L626.9 816.1" stroke-width="3.19"/>
<path d="M615 797 L627 802" stroke-width="1.74"/>
<path d="M631.8 740 L635.7 865 L626.9 874.7" stroke-width="2.90"/>
<!-- hub -->
<ellipse cx="327" cy="953" rx="40" ry="54" transform="rotate(-8 327 953)" stroke-width="2.61" fill="#fff"/>
<ellipse cx="322" cy="955" rx="22.5" ry="31" transform="rotate(-8 322 955)" stroke-width="2.32"/>
<ellipse cx="325" cy="955" rx="26.5" ry="35" transform="rotate(-8 325 955)" stroke-width="1.74"/>
<path d="M338.6 904 C342.2 905.8 353.5 909.2 360 915 C366.5 920.8 374 932 377.6 939 C381.2 946 381.9 951 381.5 957 C381.1 963 378.2 969.2 375 975 C371.8 980.8 367 987 362 992 C357 997 347.8 1002.8 345 1005" stroke-width="1.74"/>
<path d="M345 902 C348.5 903.7 359.5 906.5 366 912 C372.5 917.5 380.3 927.5 384 935 C387.7 942.5 388.5 949.8 388 957 C387.5 964.2 384.7 971.5 381 978 C377.3 984.5 368.5 993 366 996" stroke-width="1.74"/>
<path d="M358 910 C361 912 370.5 916.3 376 922 C381.5 927.7 388.3 938 391 944 C393.7 950 392.5 953.3 392 958 C391.5 962.7 388.7 969.7 388 972" stroke-width="1.74"/>
<path d="M367 912 C370.1 914.3 380.6 920 385.4 926 C390.2 932 394.4 941.5 396 948 C397.6 954.5 395.2 962.2 395 965" stroke-width="1.74"/>
<!-- studs -->
<path d="M286.8 926.6 L317.1 913" stroke-width="4.93"/>
<path d="M287.8 926.2 L317.1 913.0" stroke="#fff" stroke-width="2.4" stroke-dasharray="0.7 1.9" stroke-linecap="butt"/>
<path d="M322 926.6 L337.6 920.8" stroke-width="4.93"/>
<path d="M323.0 926.2 L337.6 920.8" stroke="#fff" stroke-width="2.4" stroke-dasharray="0.7 1.9" stroke-linecap="butt"/>
<path d="M282.9 949 L296.6 944.2" stroke-width="4.93"/>
<path d="M283.9 948.6 L296.6 944.2" stroke="#fff" stroke-width="2.4" stroke-dasharray="0.7 1.9" stroke-linecap="butt"/>
<path d="M338.6 955 L357.1 948" stroke-width="4.93"/>
<path d="M339.6 954.6 L357.1 948.0" stroke="#fff" stroke-width="2.4" stroke-dasharray="0.7 1.9" stroke-linecap="butt"/>
<path d="M288.8 970.5 L305.4 964.7" stroke-width="4.93"/>
<path d="M289.8 970.1 L305.4 964.7" stroke="#fff" stroke-width="2.4" stroke-dasharray="0.7 1.9" stroke-linecap="butt"/>
<path d="M344.4 983.2 L360 977.4" stroke-width="4.93"/>
<path d="M345.4 982.8 L360.0 977.4" stroke="#fff" stroke-width="2.4" stroke-dasharray="0.7 1.9" stroke-linecap="butt"/>
<path d="M303.4 991 L320 984.2" stroke-width="4.93"/>
<path d="M304.4 990.6 L320.0 984.2" stroke="#fff" stroke-width="2.4" stroke-dasharray="0.7 1.9" stroke-linecap="butt"/>
<path d="M320 998.8 L332.7 993" stroke-width="4.93"/>
<path d="M321.0 998.4 L332.7 993.0" stroke="#fff" stroke-width="2.4" stroke-dasharray="0.7 1.9" stroke-linecap="butt"/>
<path d="M331.7 1000.8 L347.3 994" stroke-width="4.93"/>
<path d="M332.7 1000.4 L347.3 994.0" stroke="#fff" stroke-width="2.4" stroke-dasharray="0.7 1.9" stroke-linecap="butt"/>
<!-- axle neck + bellows -->
<path d="M388 955 L405 957" stroke-width="1.74"/>
<path d="M362 912 C363 910.8 365.8 906 368 905 C370.2 904 373.3 907 375 906 C376.7 905 376.3 899.8 378 899 C379.7 898.2 383.3 901.7 385 901 C386.7 900.3 386.5 895.7 388 895 C389.5 894.3 392.3 897.5 394 897 C395.7 896.5 396.5 892.4 398 892 C399.5 891.6 402.2 894 403 894.4" stroke-width="1.74"/>
<path d="M378 910 L410 900" stroke-width="2.32"/>
<path d="M384 916 L403 910" stroke-width="1.74"/>
<path d="M386 924 L392 921 L392 927" stroke-width="1.74"/>
<path d="M405 917.8 L405 957" stroke-width="2.61"/>
<path d="M405 917.8 C406.9 916.7 410.8 910.6 416.6 911 C422.4 911.4 432.8 916.6 440 920 C447.2 923.4 456.3 929.6 459.6 931.5" stroke-width="1.74"/>
<path d="M406.9 958 L459.6 939" stroke-width="2.32"/>
<path d="M410 913 L410 955.6" stroke-width="2.61"/>
<path d="M415 913 L415 953.8" stroke-width="2.61"/>
<path d="M420 914.7 L420 952" stroke-width="2.61"/>
<path d="M425 916.8 L425 950.2" stroke-width="2.61"/>
<path d="M430 918.9 L430 948.4" stroke-width="2.61"/>
<path d="M435 921 L435 946.6" stroke-width="2.61"/>
<path d="M440 923.1 L440 944.8" stroke-width="2.61"/>
<path d="M445 925.2 L445 943" stroke-width="2.61"/>
<path d="M450 927.3 L450 941.2" stroke-width="2.61"/>
<path d="M455 929.4 L455 939.4" stroke-width="2.61"/>
<!-- plate under axle -->
<path d="M410.8 962.7 L436.2 976.4 L480 957.9 L480 953 L459.6 941.3" stroke-width="2.90"/>
<path d="M436.2 972 L480 953" stroke-width="1.74"/>
<path d="M413 961 L436.2 972" stroke-width="1.74"/>
<ellipse cx="464.5" cy="952" rx="2" ry="1.3" stroke-width="2.32"/>
<path d="M440 947 L440 962.7" stroke-width="2.61"/>
<ellipse cx="440" cy="963.5" rx="3" ry="1.3" stroke-width="1.74"/>
<path d="M457.6 970.5 L486 1000.8" stroke-width="1.74"/>
<path d="M441 976 L441 989" stroke-width="2.32" stroke-dasharray="5 2"/>
<ellipse cx="441" cy="993" rx="8.8" ry="4.5" stroke-width="2.90"/>
<ellipse cx="441" cy="992.5" rx="4" ry="1.8" stroke-width="2.32"/>
<path d="M432.3 994 C432.6 994.7 432.6 997.1 434 998 C435.4 998.9 438.7 999.5 441 999.5 C443.3 999.5 446.5 998.9 448 998 C449.5 997.1 449.5 994.7 449.8 994" stroke-width="1.74"/>
<path d="M441 999 L441 1007" stroke-width="2.32"/>
<ellipse cx="441" cy="1014.5" rx="7" ry="7.5" stroke-width="3.19"/>
<ellipse cx="441" cy="1013" rx="3.5" ry="3" stroke-width="2.32"/>
<path d="M381.5 1024 L432.3 996" stroke-width="1.74"/>
<path d="M396 1057.4 L436.2 1019.3" stroke-width="1.74"/>
<!-- gusset on rail -->
<path d="M387.4 876.8 L421.5 843.7 L428.3 844.6 L442 853.4 L443 888.6" stroke-width="2.32"/>
<path d="M405 878.8 L421.5 846" stroke-width="1.74"/>
<path d="M405 878.8 L424.4 894.4 L443 888.6" stroke-width="1.74"/>
<path d="M424.4 894.4 L438 865" stroke-width="1.74"/>
<path d="M443 888.6 C445.4 889.9 451.4 891.2 457.6 896.4 C463.8 901.6 472.9 913.3 480 919.7 C487.1 926.1 496.7 932.5 500 935" stroke-width="1.74"/>
<path d="M446 886.6 L457.6 894" stroke-width="1.74"/>
<ellipse cx="441" cy="896.4" rx="2.5" ry="1.5" stroke-width="1.74"/>
<path d="M424.4 894.4 L452 905" stroke-width="1.74"/>
<!-- rail above axle thick -->
<path d="M387.4 878.8 L500 953" stroke-width="4.35" stroke-dasharray="3 1"/>
<path d="M389.3 875.9 L500 947" stroke-width="1.74"/>
<path d="M500 953 L565 990" stroke-width="3.48"/>
<path d="M500 947 L540 970" stroke-width="1.74"/>
<!-- frame left lower -->
<path d="M280 843.7 L315 834" stroke-width="1.74"/>
<path d="M336.6 830 L336.6 849.5 L303.4 857.3 L244 873" stroke-width="1.74"/>
<path d="M303.4 857.3 C305.3 858.2 309.1 861.7 315 863 C320.9 864.3 330.8 862 338.6 865 C346.4 868 353.9 878.5 362 880.8 C370.1 883.1 383.2 879.1 387.4 878.8" stroke-width="2.90"/>
<path d="M336.6 849.5 C339.2 851.6 346.8 858.1 352 862 C357.2 865.9 361.6 870.7 367.8 873 C374 875.3 385.7 875.4 389.3 875.9" stroke-width="1.74"/>
<!-- rear post -->
<path d="M571.9 531.3 L597.6 524.2 L631.3 536.6 L604.7 543.5Z" stroke-width="2.90"/>
<path d="M586 533 L599.4 526.9 L618 534.8 L603.8 539.8Z" stroke-width="2.32"/>
<path d="M599.4 527 L599.4 533" stroke-width="1.74"/>
<path d="M572.7 531 L572.7 620" stroke-width="3.48"/>
<path d="M575.5 534 L575.5 620" stroke-width="1.74"/>
<path d="M603.8 543 L603.8 632.4 L608.2 641.3 L608.2 701.7" stroke-width="2.61"/>
<path d="M606.5 545 L606.5 632 L611 641 L611 703" stroke-width="1.74"/>
<path d="M630.4 536.6 L630.4 714" stroke-width="3.48"/>
<path d="M621.5 540 L621.5 703" stroke-width="2.90" stroke-dasharray="24 4 60 4"/>
<path d="M626.9 540 L626.9 710" stroke-width="1.74"/>
<ellipse cx="584.3" cy="548.2" rx="7.5" ry="8.5" stroke-width="3.48"/>
<ellipse cx="584.3" cy="548.2" rx="3.5" ry="4.5" stroke-width="2.32"/>
<ellipse cx="617.1" cy="564.1" rx="6" ry="3" transform="rotate(25 617.1 564.1)" stroke-width="2.61"/>
<!-- beam end box -->
<path d="M540 627 L571.2 621.5" stroke-width="1.74"/>
<path d="M540 634.5 L579 629.3 L596.6 641 L596.6 666.4 L542 677" stroke-width="1.74"/>
<path d="M540 654.7 L592.7 642 L592.7 664.4" stroke-width="1.74"/>
<path d="M542 654.7 L559.5 676" stroke-width="1.74"/>
<path d="M564 673 L571 685.7 L555 692.8" stroke-width="1.74"/>
<path d="M575 670 L575 686" stroke-width="1.74"/>
<path d="M583.4 692.8 L631.3 715.9" stroke-width="3.48"/>
<path d="M555 699.9 L626 733.6" stroke-width="2.90"/>
<path d="M583.4 712.3 L622 730" stroke-width="1.74"/>
<!-- lug -->
<ellipse cx="635.6" cy="732.7" rx="8.5" ry="11.7" transform="rotate(-8 635.6 732.7)" stroke-width="3.19"/>
<ellipse cx="636.5" cy="733.5" rx="4.5" ry="6.5" transform="rotate(-8 636.5 733.5)" stroke-width="3.19"/>
<path d="M634.7 705.4 C635.8 704.8 638.6 701.3 641.5 701.5 C644.4 701.7 649.9 705.1 652.2 706.4 C654.5 707.7 654.7 708.8 655.2 709.3" stroke-width="1.74"/>
<path d="M655.2 709.3 C655.2 711.9 655 720.5 655 725 C655 729.5 656.8 733.4 655.2 736.6 C653.6 739.8 647 743.1 645.4 744.4" stroke-width="1.74"/>
<path d="M634.7 705.4 L634.7 719" stroke-width="1.74"/>
<path d="M637.5 705.4 L649.3 712.2" stroke-width="2.32"/>
<path d="M649 741 C649.8 740.5 653 739.5 654 738 C655 736.5 654.8 733 655 732" stroke-width="3.48"/>
<!-- tower plate -->
<path d="M659 710 C660 709.4 662.3 706.8 664.9 706.4 C667.5 706 672.1 705.9 674.7 707.4 C677.3 708.9 679.4 712.3 680.5 715.2 C681.6 718.1 681.9 722.4 681.5 725 C681.1 727.6 678.6 730 678 731" stroke-width="4.35"/>
<path d="M668 713 C669.1 715 672 719.1 674.7 725 C677.4 730.9 680.8 740.5 684.4 748.3 C688 756.1 692 760.7 696.2 771.8 C700.4 782.9 706.5 804.1 709.8 814.7 C713.1 825.3 714.2 826.7 715.8 835.5 C717.4 844.3 718.5 857.6 719.4 867.5 C720.3 877.4 719.9 884.7 721 895 C722.1 905.3 723.7 920.5 726.2 929.4 C728.7 938.3 731.5 943.3 735.8 948.6 C740.1 953.9 746.3 956.9 752 961 C757.7 965.1 767 971 770 973" stroke-width="4.64"/>
<path d="M659 710.3 C660.6 712.8 665.9 718.7 668.8 725 C671.7 731.3 672.4 736.6 676.6 748.3 C680.8 760 689.3 781.6 694.2 795.2 C699.1 808.8 703 816.5 706 830 C709 843.5 710.5 861.3 712.3 876.3 C714.1 891.3 714.4 907.7 716.7 920 C719 932.3 724.5 945 726 950" stroke-width="1.74"/>
<path d="M665 715 C667.6 720.5 674.3 733.3 680.5 748.3 C686.7 763.3 696.4 788.1 702 805 C707.6 821.9 711.3 835.5 714 849.7 C716.7 863.9 717.3 883.3 718 890" stroke-width="1.74"/>
<path d="M666 710 L675 709 L680 716 L680.5 726 L676 728 L670 716Z" fill="#000" stroke="none"/>
<path d="M635 748.6 L634.2 869.2" stroke-width="2.32"/>
<path d="M632.4 760 L632.4 868" stroke-width="1.74"/>
<path d="M634.2 869.2 L628.9 872.8 L623 874" stroke-width="1.74"/>
<ellipse cx="676.8" cy="820.4" rx="9.8" ry="13" transform="rotate(-12 676.8 820.4)" stroke-width="2.61"/>
<ellipse cx="677.5" cy="821" rx="5" ry="7" transform="rotate(-12 677.5 821)" stroke-width="2.61"/>
<path d="M684 808 C685.2 809.2 689.8 811.7 691 815 C692.2 818.3 692 824.7 691 828 C690 831.3 686 833.8 685 835" stroke-width="1.74"/>
<path d="M657.3 836.4 L666.1 837.3 L676.8 860.4 L676.8 867.5 L673.2 871 L652 865.7 L647.5 855Z" stroke-width="2.90"/>
<path d="M655.5 844.4 C656.6 844.5 659.3 841.5 662 845 C664.7 848.5 669.9 862.2 671.5 865.7" stroke-width="1.74"/>
<ellipse cx="662" cy="853" rx="4.5" ry="7" transform="rotate(-25 662 853)" stroke-width="2.32"/>
<!-- pivot tube -->
<path d="M691 745 L797.5 706.9" stroke-width="3.19"/>
<path d="M797.5 706.9 C799 707 803.5 705.8 806.3 707.7 C809.1 709.6 813 714.5 814.3 718.4 C815.6 722.2 815.3 727.8 814.3 730.8 C813.3 733.8 809.1 735.2 808.1 736.1" stroke-width="3.19"/>
<path d="M703.4 775.2 L808.1 736.1" stroke-width="3.48"/>
<path d="M738.9 751.2 L747.8 739.7 L767.3 733.5 L771.7 737 L764.6 746.8 L742.4 755.7Z" stroke-width="3.48"/>
<path d="M745 750 L765 742" stroke-width="1.74" stroke-dasharray="5 2"/>
<path d="M779.7 751.2 L875 800.5" stroke-width="1.74"/>
<!-- under tube -->
<path d="M705.2 778.7 L754.9 761" stroke-width="3.19"/>
<path d="M754.9 761 L754.9 785.8" stroke-width="2.32"/>
<path d="M752 763 L752 786" stroke-width="1.74"/>
<path d="M706 780 L728.3 796.5" stroke-width="1.74"/>
<path d="M733.6 769.9 L753.1 784" stroke-width="2.32"/>
<path d="M715.8 801.8 L753.1 786.7" stroke-width="3.19"/>
<path d="M716.7 805.4 C718 805.7 723.1 805.8 724.7 807 C726.3 808.2 727.1 810.8 726.5 812.4 C725.9 814 722.8 816.8 721.2 816.9 C719.6 817 717.7 813.6 717 813" stroke-width="1.74"/>
<path d="M718.5 830.2 L760.2 816" stroke-width="2.90"/>
<path d="M760.2 816 C761.2 815.8 764.2 814.4 766 814.5 C767.8 814.6 769.7 815.8 770.8 816.9 C771.9 818 772.3 820.6 772.6 821.3" stroke-width="1.74"/>
<path d="M762 819.5 L786.8 833.7" stroke-width="2.90"/>
<path d="M770 826 L790 838" stroke-width="1.74"/>
<path d="M794.8 743.2 C794.9 747.7 795.5 762.3 795.5 770 C795.5 777.7 795.6 782.6 794.8 789.4 C793.9 796.2 792.9 805.1 790.4 810.7 C787.9 816.3 781.5 821 779.7 823" stroke-width="1.74" stroke-dasharray="30 4 4 4"/>
<path d="M730.9 830.2 L730.9 903" stroke-width="1.74"/>
<path d="M767.3 835.5 L767.3 935" stroke-width="1.74"/>
<path d="M772.6 848 L772.6 938" stroke-width="1.74" stroke-dasharray="50 5"/>
<path d="M769.5 836 L769.5 935" stroke-width="1.16"/>
<path d="M723.8 863 L730.9 859.5 L744.2 876.3 L746 885.2 L724.7 892.3" stroke-width="1.74"/>
<path d="M725 886 L746 878.5" stroke-width="1.74"/>
<path d="M721.2 843.5 L787.7 876.3" stroke-width="1.74"/>
<path d="M726.5 918 L789 953" stroke-width="3.19"/>
<path d="M729 903 L771 938" stroke-width="1.74"/>
<!-- right plate -->
<path d="M779.8 712.3 L779.8 652.9 L782.9 649 L792 649 L805.7 655.9" stroke-width="3.19"/>
<path d="M805.7 655.9 C806.2 655.5 807 653.9 808.8 653.6 C810.6 653.4 814.1 653.2 816.4 654.4 C818.7 655.5 821.5 657.7 822.5 660.5 C823.5 663.3 822.5 669.3 822.5 671.1" stroke-width="3.19"/>
<path d="M822.5 671.1 C824.8 674.9 831.4 685.1 836.2 694 C841 702.9 847.4 714.4 851.4 724.5 C855.4 734.6 857.7 743.5 860.5 754.9 C863.3 766.3 866.9 786.6 868.2 793" stroke-width="4.93"/>
<path d="M783.6 691 L786.7 709.2" stroke-width="1.74"/>
<path d="M782 653 L806 660" stroke-width="2.32"/>
<path d="M790.5 664.3 C793.8 668.8 804.2 681 810.3 691 C816.4 701 821.9 712.6 827 724.5 C832.1 736.4 837.3 752.4 840.7 762.5 C844.1 772.6 846.5 781.6 847.6 785.4" stroke-width="1.74"/>
<path d="M797.3 671.1 C800.7 676.4 811.9 692.2 817.9 703.1 C823.9 714 828.9 723.9 833.1 736.6 C837.3 749.3 841.4 772.2 843 779.3" stroke-width="1.74"/>
<path d="M805.7 668.1 C809.2 673.2 820.9 688.5 827 698.6 C833.1 708.8 838.7 720.9 842.3 729 C845.9 737.1 847.4 744.2 848.4 747.3" stroke-width="1.74" stroke-dasharray="26 5"/>
<path d="M851.4 754.9 C852.2 757.8 854.6 765.9 856 772 C857.4 778.1 859.2 788.2 859.8 791.5" stroke-width="1.74"/>
<path d="M806 657 C808.7 660.2 816.7 668.2 822 676 C827.3 683.8 835.3 699.3 838 704" stroke-width="1.74"/>
<ellipse cx="784.4" cy="677.2" rx="11.4" ry="13.7" transform="rotate(-10 784.4 677.2)" stroke-width="3.19" fill="#fff"/>
<ellipse cx="784.4" cy="677.5" rx="6" ry="8" transform="rotate(-10 784.4 677.5)" stroke-width="3.19"/>
<ellipse cx="785.5" cy="678.5" rx="3" ry="4.5" transform="rotate(-10 785.5 678.5)" stroke-width="1.74"/>
<!-- lower boss -->
<ellipse cx="813.3" cy="764" rx="8.4" ry="10.5" transform="rotate(-15 813.3 764)" stroke-width="2.90" fill="#fff"/>
<ellipse cx="813.3" cy="764" rx="4.5" ry="6" transform="rotate(-15 813.3 764)" stroke-width="2.90"/>
<path d="M815 751 C816.3 751.2 820.8 750.2 823 752 C825.2 753.8 827.7 758.5 828 762 C828.3 765.5 826.3 770.5 825 773 C823.7 775.5 820.8 776.3 820 777" stroke-width="2.32"/>
<path d="M821 750.4 C822.8 751.4 829.3 753.6 831.6 756.4 C833.9 759.2 834.9 763.8 834.6 767.1 C834.3 770.4 830.8 774.7 830 776.2" stroke-width="2.32"/>
<path d="M805.7 770.2 C806.4 771.8 808 777.2 810 780 C812 782.8 814.3 784.6 817.9 786.9 C821.5 789.2 827 793.3 831.6 793.8 C836.2 794.3 843 790.6 845.3 790" stroke-width="2.61"/>
<path d="M810 776 C811.3 777 815 781.2 818 782 C821 782.8 826.3 781.2 828 781" stroke-width="1.74"/>
<!-- mesh panel -->
<path d="M792.3 831.4 L880.6 795.2 L880.6 925.5 L852.4 935.6 L851.7 903 L848 898.7 L843.7 897.3 L830.7 903 L824.9 913.2 L822.7 924.8 L822.7 952.3 L792.3 963.8Z" fill="url(#mesh)" stroke-width="2"/>
<path d="M793.8 832 L793.8 962" stroke-width="4.35"/>
<path d="M853 904 L853 934" stroke-width="3.48"/>
<path d="M876 797 L880 800" stroke-width="4.35"/>
<ellipse cx="840.8" cy="927.7" rx="10.5" ry="12.5" transform="rotate(-15 840.8 927.7)" stroke-width="3.19" fill="#fff"/>
<ellipse cx="841.5" cy="928.5" rx="5" ry="6.5" transform="rotate(-15 841.5 928.5)" stroke-width="2.90"/>
<path d="M845 905 L845 915" stroke-width="2.61"/>
<path d="M813.3 890 L843.7 901.6 L880 887" stroke="#fff" stroke-width="2.6"/>
<path d="M812.5 888.5 L843.7 900 L880 885.5" stroke-width="1.30"/>
<path d="M814 891.5 L843.7 903.2 L880 889" stroke-width="1.30"/>
<ellipse cx="864" cy="867.6" rx="1.4" ry="1.8" stroke-width="1.16" fill="#fff"/>
<!-- leaders right -->
<path d="M893.5 682.5 L851 722.5" stroke-width="1.74"/>
<path d="M938.5 763 L881 794" stroke-width="1.74"/>
<path d="M873.5 805 L906 819 L1018.5 750 L1053.5 765" stroke-width="1.74" stroke-dasharray="40 4 4 4"/>
<path d="M880 888 L951 852.5 L988.5 872.5" stroke-width="1.74" stroke-dasharray="40 4 4 4"/>
<!-- strip -->
<path d="M971 796 L1053.5 757.5 L1060 759 L1060 765 L976 809 L971 806Z" stroke-width="2.90"/>
<path d="M976 798.5 L1053.5 762" stroke-width="1.74"/>
<path d="M976 798.5 L976 809" stroke-width="1.74"/>
<path d="M981 802 L1052 769" stroke-width="2.32"/>
<ellipse cx="980" cy="801" rx="1.5" ry="2" stroke-width="1.74"/>
<ellipse cx="1056" cy="762" rx="1.5" ry="2" stroke-width="1.74"/>
<path d="M1078.5 713 L1058.5 757.5" stroke-width="1.74"/>
<path d="M1056 767 L1072 777.5" stroke-width="1.74"/>
<path d="M1073.5 778 L1091 787" stroke-width="6.09"/>
<path d="M1073.5 778 L1091 787" stroke="#fff" stroke-width="3.6" stroke-dasharray="0.8 1.8" stroke-linecap="butt"/>
<ellipse cx="1098.5" cy="789" rx="7" ry="8" stroke-width="3.19"/>
<path d="M1115.5 747.5 L1086 779" stroke-width="1.74"/>
<!-- U bracket -->
<path d="M972 880 L1066 837 L1073.5 839 L1073.5 884 L1062 887.5 L1061 857.5 L986 891 L985 925 L974.5 929 L972 927 L972 880" stroke-width="3.19"/>
<path d="M977 882.5 L1069 841" stroke-width="2.32"/>
<path d="M977 882.5 L977 928" stroke-width="1.74"/>
<path d="M1069 841 L1069 885" stroke-width="1.74"/>
<ellipse cx="1055" cy="851" rx="2" ry="2.2" stroke-width="1.74"/>
<ellipse cx="998" cy="877" rx="2" ry="2.2" stroke-width="1.74"/>
<path d="M1115 839 L1075 857.5" stroke-width="1.74"/>
<path d="M998.5 877.5 L1031 895" stroke-width="1.74"/>
<path d="M1032 896 L1049 905" stroke-width="6.09"/>
<path d="M1032 896 L1049 905" stroke="#fff" stroke-width="3.6" stroke-dasharray="0.8 1.8" stroke-linecap="butt"/>
<ellipse cx="1055" cy="907.5" rx="7" ry="8" stroke-width="3.19"/>
<path d="M1063.5 907.5 L1103.5 912" stroke-width="1.74"/>
<!-- far rail top -->
<path d="M891 888 L1115 1054" stroke-width="3.48"/>
<path d="M883.5 900.5 L1096 1060.5" stroke-width="2.61"/>
<path d="M885 906 L976 975.5" stroke-width="1.74"/>
<!-- far end plate -->
<path d="M1115 1054 L1116 1120.5 L1106 1125.5 L1096 1115.5" stroke-width="2.90"/>
<path d="M1096 1062 L1096 1115.5" stroke-width="2.61"/>
<path d="M1100 1064 L1100 1118" stroke-width="1.74"/>
<path d="M1086 1058 L1090 1110" stroke-width="1.74"/>
<ellipse cx="1106" cy="1095" rx="1.5" ry="2" stroke-width="1.74" fill="#000"/>
<ellipse cx="1119" cy="1118" rx="7" ry="8.5" transform="rotate(-20 1119 1118)" stroke-width="3.19"/>
<ellipse cx="1119.5" cy="1119" rx="3.5" ry="5" transform="rotate(-20 1119.5 1119)" stroke-width="2.32"/>
<!-- floor -->
<path d="M1053.5 1088 L1103.5 1124" stroke-width="2.32"/>
<path d="M1053.5 1088 L1063.5 1083 L1076 1053" stroke-width="1.74"/>
<path d="M1070 1085 L1082 1056" stroke-width="1.74"/>
<path d="M1103.5 1124 L1011 1180 L982 1165" stroke-width="2.32"/>
<path d="M946 1101 L1016 1063" stroke-width="2.90"/>
<path d="M1105 1121 L1105 1125" stroke-width="1.74"/>
<path d="M986 1174 L1010 1191 L1031 1180 L1031 1172" stroke-width="1.74"/>
<path d="M986 1170 L986 1174" stroke-width="1.74"/>
<path d="M1053.5 1160 L1058.5 1164 L1078.5 1152.5 L1078.5 1146" stroke-width="1.74"/>
<path d="M1010 1186 L1010 1191" stroke-width="1.74"/>
<!-- tube crossmember -->
<path d="M891 1054.2 C898.8 1050.5 928.1 1037.7 937.9 1031.7 C947.7 1025.7 946.9 1023.3 949.6 1018 C952.3 1012.7 952.4 1007.8 954 1000 C955.6 992.2 958.4 976 959.3 971.2" stroke-width="2.61"/>
<path d="M896.9 1061 C904.4 1057.1 932 1044.1 941.8 1037.6 C951.5 1031.1 952.4 1028.3 955.4 1022 C958.4 1015.7 958.4 1008.1 960 1000 C961.6 991.9 964.3 977.7 965.2 973.2" stroke-width="2.61"/>
<path d="M891 1054.2 L896.9 1061" stroke-width="1.74"/>
<path d="M897 1057 L973 1024" stroke-width="1.74"/>
<!-- lug far -->
<path d="M899.8 978 C902.9 976.2 913.9 968.8 918.3 967.3 C922.7 965.8 920.3 966.4 926.2 969.3 C932.1 972.2 949 982.3 953.5 984.9" stroke-width="2.32"/>
<path d="M899.8 978 C900 979.5 899.7 984.5 900.8 986.8 C901.9 989.1 902.4 990.7 906.6 991.7 C910.8 992.7 919 990.9 926.2 992.7 C933.4 994.5 945.7 1000.9 949.6 1002.5" stroke-width="2.61"/>
<path d="M918.3 986.8 L953 990" stroke-width="1.74"/>
<ellipse cx="913.5" cy="980" rx="8.8" ry="4.2" stroke-width="2.61"/>
<path d="M905 981 A8.8 4.2 0 0 0 922 981 Z" fill="#000" stroke="none"/>
<path d="M922 972 L950 983" stroke-width="1.30"/>
<!-- inner wall -->
<path d="M975 975.5 L976 1023" stroke-width="1.30"/>
<path d="M976 1023 C976.8 1023.4 979.7 1023.3 981 1025.5 C982.3 1027.7 983.2 1032.7 984 1036 C984.8 1039.3 983.7 1042.2 986 1045.5 C988.3 1048.8 993.8 1053.1 998 1056 C1002.2 1058.9 1008.8 1061.8 1011 1063" stroke-width="2.61"/>
<path d="M1011 1063 L1030 1058 L1046 1060" stroke-width="1.74"/>
<path d="M977 975.5 L986 969 L1041 1013 L1033.5 1019Z" stroke-width="2.61"/>
<path d="M996 1030.5 L1006 1025.5 L1027 1038 L1018.5 1045.5Z" stroke-width="2.61"/>
<path d="M1003 1030 L1014 1036" stroke-width="4.35"/>
<path d="M1018.5 1045.5 L1061 1075.5" stroke-width="1.74"/>
<path d="M1024 1042 L1058 1066" stroke-width="1.74"/>
<path d="M1045 1062 L1050 1058 L1058.5 1064 L1058 1070Z" stroke-width="2.32"/>
<!-- near rail right section -->
<path d="M736.5 963 L770 990.7 L814.9 1027.8 L879.3 1076.6 L959.3 1139" stroke-width="2.90"/>
<path d="M739 968 L770 995 L812 1031 L877 1081 L957 1143" stroke-width="1.74"/>
<path d="M770 973 L818.8 1008.3 L857.8 1033.7" stroke-width="3.77"/>
<path d="M920.3 1082.5 L945.7 1102 L980.8 1129.3" stroke-width="3.77"/>
<path d="M789 953 L797.3 961.5 L939.8 1024" stroke-width="1.74"/>
<path d="M797 957 L805 959.5 L941.8 1021" stroke-width="1.74"/>
<path d="M726.5 918 L789 953" stroke-width="3.19"/>
<path d="M853.9 1037.6 L860.8 1032.7 L920.3 1078.6 L920.3 1082.5 L914.4 1086.4 L853.9 1041.5Z" stroke-width="2.90" fill="#fff"/>
<path d="M914.4 1082.5 L920.3 1078.6" stroke-width="1.74"/>
<path d="M853.9 1037.6 L914.4 1082.5 L914.4 1086.4" stroke-width="1.74"/>
<path d="M852 1041.5 L879 1065" stroke-width="3.19" stroke-dasharray="1.5 3"/>
<!-- clip -->
<ellipse cx="885.2" cy="1015.2" rx="3.5" ry="6" transform="rotate(-30 885.2 1015.2)" stroke-width="2.61"/>
<path d="M879.3 1024 C880.1 1024.7 882.4 1027.2 884 1028 C885.6 1028.8 886.5 1029.5 889 1028.8 C891.5 1028.1 897 1025.8 898.8 1024 C900.6 1022.2 899.8 1019 900 1018" stroke-width="2.61"/>
<path d="M898 1017 L930 1031.7" stroke-width="3.19"/>
<!-- near end plate -->
<path d="M945.7 1102 L980.8 1129.3" stroke-width="2.90"/>
<path d="M980.8 1129.3 L982 1202.5 L965 1211" stroke-width="3.77"/>
<path d="M961.5 1134 L964 1211" stroke-width="3.77"/>
<path d="M959.3 1139 L965.2 1137 L980.8 1129.3" stroke-width="1.74"/>
<path d="M967 1138 L968 1206" stroke-width="1.74"/>
<path d="M976 1170 L981 1170" stroke-width="1.45"/>
<path d="M744.4 1091.5 L755 1101.2 L817.1 1137.6 L850.8 1124.3 L856.2 1130.5 L879.2 1146.5 L908.5 1161 L918.5 1180 L926 1189 L958 1208" stroke-width="3.77"/>
<path d="M746.1 1086.1 L758.6 1096.8 L815.4 1130.5 L849 1117.2 L856.2 1118 L861 1125 L883.5 1145 L911 1157.5 L921 1175 L931 1185 L961 1205" stroke-width="1.74"/>
<path d="M856.2 1123.4 L900 1150" stroke-width="1.74"/>
<ellipse cx="952" cy="1215" rx="10" ry="12.5" transform="rotate(-25 952 1215)" stroke-width="3.48"/>
<ellipse cx="952" cy="1216" rx="5" ry="8" transform="rotate(-25 952 1216)" stroke-width="2.61"/>
<!-- hose -->
<path d="M685 1177.5 C689.8 1170.4 703.3 1149.6 714 1135 C724.7 1120.4 739.7 1101.7 749 1090 C758.3 1078.3 760.7 1076 770 1065 C779.3 1054 795.2 1034.1 805 1024 C814.8 1013.9 821.4 1009.4 828.6 1004.4 C835.8 999.4 842.5 995.8 848 993.7 C853.5 991.6 857.8 991.2 861.7 991.7 C865.6 992.2 869.2 994.2 871.5 996.6 C873.8 999 874.5 1003.3 875.4 1006.4 C876.3 1009.5 876.7 1013.6 877 1015" stroke-width="1.74"/>
<path d="M696.5 1185 C701.1 1177.9 714 1157.1 724 1142.5 C734 1127.9 748.8 1107.8 756.5 1097.5 C764.2 1087.2 761.2 1091.1 770 1080.5 C778.8 1069.9 798.6 1045.1 809 1033.7 C819.4 1022.3 825.3 1017.7 832.5 1012.2 C839.7 1006.7 846.8 1002.5 852 1000.5 C857.2 998.5 860.5 998.9 863.7 1000.5 C867 1002.1 869.4 1005.8 871.5 1010.3 C873.6 1014.8 875.3 1022.6 876.4 1027.8 C877.5 1033 878 1039.2 878.3 1041.5" stroke-width="3.48"/>
<!-- detail ellipse -->
<ellipse cx="671" cy="1247.5" rx="47.5" ry="65" stroke-width="1.45" stroke-dasharray="70 3"/>
<path d="M655 1211 L679 1202.5 L686.5 1205 L686.5 1281 L660 1292.5 L655 1290Z" stroke-width="3.48"/>
<path d="M663 1212.5 L681.5 1206 L681.5 1277.5 L663 1285Z" fill="url(#mesh2)" stroke="none"/>
<path d="M660 1213 L660 1292" stroke-width="2.61"/>
<path d="M681.5 1206 L681.5 1278" stroke-width="2.03"/>
<path d="M663 1285 L686 1277" stroke-width="1.74"/>
<path d="M731 1225 L686.5 1242.5" stroke-width="1.74"/>
<!-- lower lug -->
<path d="M685 1025.5 C684.8 1022.6 684.6 1013.4 684 1008 C683.4 1002.6 679.8 999.2 681.5 993 C683.2 986.8 688.6 972.6 694 970.5 C699.4 968.4 709.7 976.8 714 980.5 C718.3 984.2 719 990.9 720 993" stroke-width="2.90"/>
<path d="M720 993 C721.5 1000.9 725 1027.2 729 1040.5 C733 1053.8 740.5 1065.5 744 1073 C747.5 1080.5 749 1083.4 750 1085.5" stroke-width="2.32"/>
<path d="M714 993 C715.7 1000.9 719.8 1026.8 724 1040.5 C728.2 1054.2 735.2 1067.6 739 1075.5 C742.8 1083.4 745.2 1085.9 746.5 1088" stroke-width="1.74"/>
<path d="M685 1025.5 C683.2 1027.6 676.2 1034.9 674 1038 C671.8 1041.1 671.9 1043 671.5 1044" stroke-width="2.90"/>
<ellipse cx="695" cy="998" rx="11" ry="13.5" transform="rotate(-10 695 998)" stroke-width="2.90"/>
<ellipse cx="695" cy="998" rx="6" ry="8" transform="rotate(-10 695 998)" stroke-width="2.90"/>
<path d="M690 972 C692.2 972.2 699.3 970.8 703 973 C706.7 975.2 710.8 980 712 985 C713.2 990 710.3 1000 710 1003" stroke-width="1.74"/>
</g></svg></body></html>
